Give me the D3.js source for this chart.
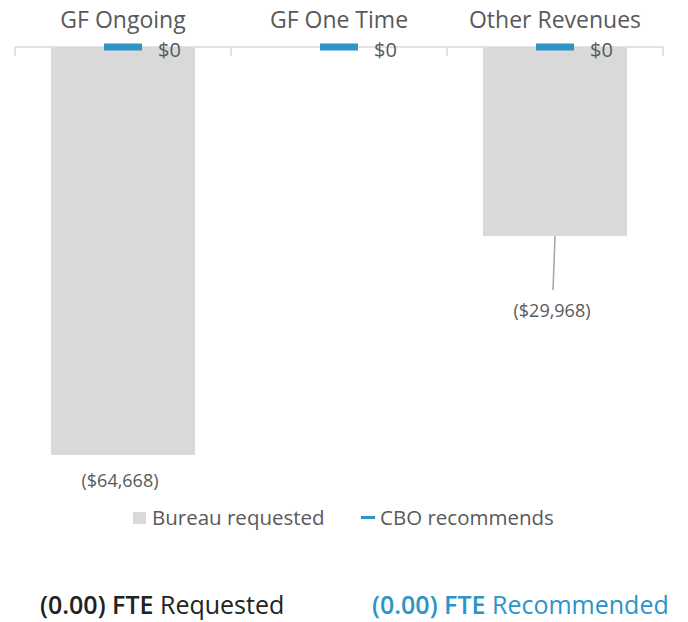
<!DOCTYPE html>
<html>
<head>
<meta charset="utf-8">
<script src="https://cdn.jsdelivr.net/npm/d3@7"></script>
<style>
  html, body { margin: 0; padding: 0; background: #fff; }
  svg { display: block; font-family: "Open Sans", Lato, sans-serif; }
</style>
</head>
<body>
<svg id="chart" width="688" height="622"></svg>
<script>
// Budget categories and the two series compared for each
const categories = ["GF Ongoing", "GF One Time", "Other Revenues"];
const bureauRequested = [-64668, 0, -29968];
const cboRecommends = [0, 0, 0];
const seriesNames = ["Bureau requested", "CBO recommends"];
const fteRequested = "(0.00)";
const fteRecommended = "(0.00)";

const grey = "#d9d9d9";
const blue = "#2e93c6";
const textGrey = "#595959";

const svg = d3.select("#chart");

const x = d3.scaleBand().domain(categories).range([15, 663]).padding(0);
const y = d3.scaleLinear().domain([-70000, 0]).range([488.6, 47]);

const fmt = v => v === 0 ? "$0" : (v < 0 ? "($" + d3.format(",")(-v) + ")" : "$" + d3.format(",")(v));
const barW = x.bandwidth() * 0.667;

// Bureau requested bars (hang down from zero)
svg.append("g").selectAll("rect")
  .data(categories.map((c, i) => ({ c, v: bureauRequested[i] })))
  .join("rect")
  .attr("x", d => x(d.c) + (x.bandwidth() - barW) / 2)
  .attr("width", barW)
  .attr("y", d => y(Math.max(0, d.v)))
  .attr("height", d => Math.abs(y(d.v) - y(0)))
  .attr("fill", grey);

// Category axis along zero line, labels placed above
const axis = svg.append("g").attr("transform", `translate(0,${y(0)})`);
axis.append("line")
  .attr("x1", x.range()[0]).attr("x2", x.range()[1])
  .attr("stroke", grey).attr("stroke-width", 1.5);
axis.selectAll("line.tick")
  .data(d3.range(categories.length + 1))
  .join("line")
  .attr("class", "tick")
  .attr("x1", i => x.range()[0] + i * x.step())
  .attr("x2", i => x.range()[0] + i * x.step())
  .attr("y1", 0).attr("y2", 9)
  .attr("stroke", grey).attr("stroke-width", 1.5);

svg.append("g").selectAll("text")
  .data(categories)
  .join("text")
  .attr("x", d => x(d) + x.bandwidth() / 2)
  .attr("y", 28)
  .attr("text-anchor", "middle")
  .attr("font-size", 23)
  .attr("fill", textGrey)
  .text(d => d);

// CBO recommends markers (dash centred on the category at its value)
const dashW = 38;
const cbo = svg.append("g").selectAll("g")
  .data(categories.map((c, i) => ({ c, v: cboRecommends[i] })))
  .join("g");
cbo.append("rect")
  .attr("x", d => x(d.c) + x.bandwidth() / 2 - dashW / 2)
  .attr("y", d => y(d.v) - 3.5)
  .attr("width", dashW)
  .attr("height", 7)
  .attr("fill", blue);
cbo.append("text")
  .attr("x", d => x(d.c) + x.bandwidth() / 2 + 35)
  .attr("y", d => y(d.v) + 10)
  .attr("font-size", 20)
  .attr("fill", textGrey)
  .text(d => fmt(d.v));

// Bureau value labels below bar ends
const labelData = categories.map((c, i) => ({ c, v: bureauRequested[i] })).filter(d => d.v !== 0);
labelData.forEach(d => {
  const cx = x(d.c) + x.bandwidth() / 2;
  const bottom = y(d.v);
  const long = d.c === "Other Revenues";
  const ly = long ? bottom + 81 : bottom + 32;
  if (long) {
    svg.append("line")
      .attr("x1", cx).attr("y1", bottom)
      .attr("x2", cx - 2).attr("y2", bottom + 54)
      .attr("stroke", "#a6a6a6").attr("stroke-width", 1.5);
  }
  svg.append("text")
    .attr("x", cx - 3)
    .attr("y", ly)
    .attr("text-anchor", "middle")
    .attr("font-size", 18)
    .attr("fill", textGrey)
    .text(fmt(d.v));
});

// Legend
const legend = svg.append("g");
legend.append("rect").attr("x", 133).attr("y", 512).attr("width", 13).attr("height", 12).attr("fill", grey);
legend.append("text").attr("x", 152).attr("y", 525).attr("font-size", 20.5).attr("fill", textGrey).text(seriesNames[0]);
legend.append("rect").attr("x", 361).attr("y", 516).attr("width", 14).attr("height", 3).attr("fill", blue);
legend.append("text").attr("x", 380).attr("y", 525).attr("font-size", 20.5).attr("fill", textGrey).text(seriesNames[1]);

// FTE summary line
const fte1 = svg.append("text").attr("x", 40).attr("y", 614).attr("font-size", 25).attr("fill", "#222");
fte1.append("tspan").attr("font-weight", 600).text(fteRequested + " FTE");
fte1.append("tspan").text(" Requested");
const fte2 = svg.append("text").attr("x", 372).attr("y", 614).attr("font-size", 25).attr("fill", blue);
fte2.append("tspan").attr("font-weight", 600).text(fteRecommended + " FTE");
fte2.append("tspan").text(" Recommended");
</script>
</body>
</html>
